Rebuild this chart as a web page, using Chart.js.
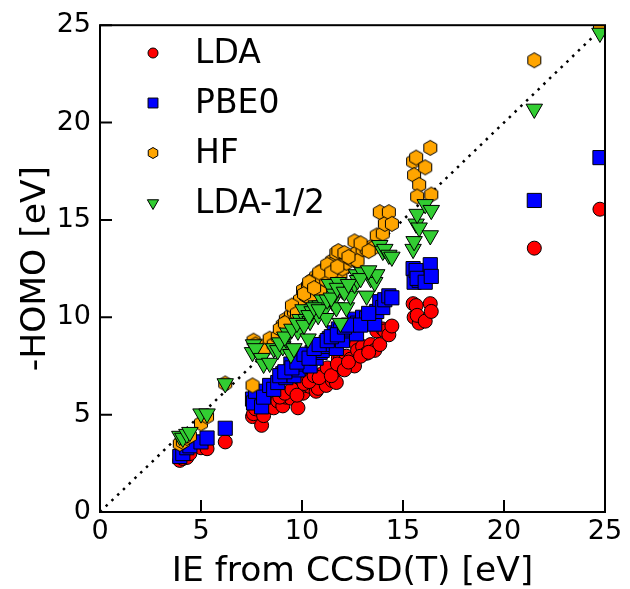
<!DOCTYPE html>
<html lang="en">
<head>
    <meta charset="UTF-8">
    <title>-HOMO vs IE</title>
    <script src="https://cdn.jsdelivr.net/npm/chart.js"></script>
    <style>
        body { margin: 0; background: white; }
    </style>
</head>
<body>
    <canvas id="homoChart" width="630" height="589"></canvas>

    <script>
        // IE from CCSD(T) for each molecule [eV]
        const ie = [3.95, 4.1, 4.3, 4.45, 5.0, 5.3, 6.2,
            7.55, 7.6, 7.7, 8.0, 8.1, 8.4, 8.6, 8.8, 9.05, 9.2, 9.3, 9.45, 9.6, 9.8, 9.9,
            10.05, 10.2, 10.3, 10.4, 10.5, 10.7, 10.8, 10.9, 11.0, 11.1, 11.2, 11.35, 11.5,
            11.6, 11.7, 11.8, 11.9, 12.0, 12.2, 12.4, 12.6, 12.7, 12.75, 13.0, 13.2, 13.4,
            13.6, 13.7, 13.85, 14.0, 14.1, 14.3, 14.45,
            15.5, 15.55, 15.65, 15.8, 15.7, 16.1, 16.35, 16.4,
            21.5, 24.75,
            8.9, 9.15, 9.5, 9.75, 10.1, 10.35, 10.6, 10.85, 11.25, 11.45, 11.75, 12.1, 12.3, 12.9, 13.3];
        // -HOMO for each method [eV]
        const lda = [2.65, 2.75, 2.8, 3.0, 3.3, 3.25, 3.6,
            4.9, 5.05, 5.3, 4.45, 4.95, 5.55, 5.35, 5.7, 5.45, 5.9, 6.0, 5.85, 6.35, 5.35, 6.3,
            6.1, 6.5, 6.8, 6.45, 6.9, 6.2, 6.35, 7.0, 7.1, 6.8, 6.5, 7.3, 6.75,
            7.2, 6.65, 7.9, 7.85, 7.4, 8.0, 7.85, 7.5, 8.6, 8.3, 8.5, 8.15, 8.6,
            8.3, 9.3, 8.6, 9.4, 9.3, 9.1, 9.55,
            10.7, 10.0, 10.6, 9.7, 10.1, 9.8, 10.7, 10.3,
            13.55, 15.55,
            5.9, 6.1, 6.3, 6.0, 6.6, 6.7, 7.0, 6.9, 7.4, 7.0, 7.6, 7.3, 7.7, 8.0, 8.2];
        const pbe0 = [2.85, 3.0, 3.3, 3.4, 3.6, 3.8, 4.3,
            5.8, 5.6, 6.2, 5.4, 5.9, 6.5, 6.3, 6.65, 7.1, 6.9, 7.15, 7.6, 7.0, 7.3, 8.0,
            7.6, 7.8, 8.0, 7.5, 8.2, 7.9, 8.3, 8.2, 8.3, 8.5, 8.7, 8.9, 8.6,
            9.2, 8.4, 9.4, 9.3, 8.8, 9.3, 9.4, 9.9, 9.15, 9.7, 10.0, 9.95, 10.0,
            9.65, 10.3, 10.8, 10.5, 10.9, 11.1, 11.0,
            12.5, 11.8, 12.4, 11.9, 12.0, 11.8, 12.7, 12.1,
            16.0, 18.2,
            7.0, 7.2, 7.4, 7.7, 8.1, 7.9, 8.4, 8.6, 8.8, 9.0, 9.1, 9.5, 9.6, 9.6, 10.2];
        const hf = [3.5, 3.6, 3.8, 3.9, 4.55, 4.9, 6.6,
            6.5, 8.8, 8.6, 8.5, 8.3, 8.9, 8.6, 9.0, 9.6, 9.9, 9.8, 10.1, 10.3, 10.7, 10.9,
            11.4, 11.1, 11.6, 11.0, 11.9, 12.1, 12.0, 11.3, 12.4, 12.3, 11.9, 12.6, 12.9,
            12.8, 13.3, 13.4, 12.2, 12.5, 12.8, 13.0, 13.9, 13.3, 12.9, 13.5, 13.5, 13.6,
            13.6, 14.2, 15.4, 14.3, 14.8, 15.4, 14.8,
            18.0, 17.3, 18.2, 16.8, 16.2, 17.7, 18.7, 16.3,
            23.2, 24.9,
            9.4, 9.7, 10.6, 10.2, 11.2, 11.8, 11.5, 12.3, 12.7, 12.3, 12.6, 13.3, 13.1, 13.8, 13.4];
        const lda12 = [3.9, 3.8, 4.0, 4.1, 5.05, 5.05, 6.6,
            8.2, 8.6, 8.4, 7.9, 7.6, 7.65, 8.4, 8.3, 8.5, 8.9, 9.2, 8.1, 8.4, 9.3, 9.9,
            10.4, 9.9, 8.9, 9.8, 10.3, 10.6, 10.1, 10.6, 10.9, 10.4, 9.95, 11.7, 10.8,
            11.2, 10.5, 11.8, 9.7, 11.4, 10.5, 11.1, 11.7, 12.2, 11.9, 12.3, 11.1, 12.0,
            11.8, 12.2, 13.7, 13.4, 13.5, 13.2, 13.1,
            13.5, 13.9, 14.8, 14.6, 15.3, 15.8, 14.2, 15.5,
            20.7, 24.6,
            8.7, 9.0, 9.4, 9.7, 9.6, 10.1, 10.5, 10.4, 10.9, 11.0, 11.5, 11.3, 11.7, 12.0, 12.4];
        const axisTicks = [0, 5, 10, 15, 20, 25];

        Chart.defaults.font.family = 'DejaVu Sans';
        Chart.defaults.color = 'black';

        function hexagon(r, fill) {
            const s = Math.ceil(r * 2 + 3);
            const c = document.createElement('canvas');
            c.width = s;
            c.height = s;
            const g = c.getContext('2d');
            g.beginPath();
            for (let i = 0; i < 6; i++) {
                const a = Math.PI / 3 * i - Math.PI / 2;
                const px = s / 2 + r * Math.cos(a);
                const py = s / 2 + r * Math.sin(a);
                if (i === 0) g.moveTo(px, py); else g.lineTo(px, py);
            }
            g.closePath();
            g.fillStyle = fill;
            g.fill();
            g.strokeStyle = 'black';
            g.lineWidth = 1;
            g.stroke();
            return c;
        }

        const pts = vals => vals.map((v, i) => ({x: ie[i], y: v}));

        const series = [
            {label: 'LDA', data: lda, color: 'red', style: 'circle', radius: 7, rot: 0, legendStyle: 'circle', legendRadius: 5},
            {label: 'PBE0', data: pbe0, color: 'blue', style: 'rect', radius: 10, rot: 0, legendStyle: 'rect', legendRadius: 7},
            {label: 'HF', data: hf, color: 'orange', style: hexagon(7.5, 'orange'), radius: 7.5, rot: 0, legendStyle: hexagon(5.5, 'orange'), legendRadius: 5},
            {label: 'LDA-1/2', data: lda12, color: 'limegreen', style: 'triangle', radius: 9.5, rot: 180, legendStyle: 'triangle', legendRadius: 6.5}
        ];

        const datasets = series.map((s, i) => ({
            type: 'scatter',
            label: s.label,
            data: pts(s.data),
            pointStyle: s.style,
            pointRotation: s.rot,
            pointRadius: s.radius,
            pointBackgroundColor: s.color,
            pointBorderColor: 'black',
            pointBorderWidth: 1,
            order: 4 - i
        }));
        datasets.push({
            type: 'line',
            label: 'diagonal',
            data: [{x: 0, y: 0}, {x: 25, y: 25}],
            borderColor: 'black',
            borderWidth: 2.5,
            borderDash: [2.5, 5.5],
            pointRadius: 0,
            order: 10
        });

        const framePlugin = {
            id: 'frame',
            afterDraw(chart) {
                const {ctx, chartArea: a, scales: {x, y}} = chart;
                ctx.save();
                ctx.strokeStyle = 'black';
                ctx.lineWidth = 2;
                ctx.strokeRect(a.left, a.top, a.right - a.left, a.bottom - a.top);
                ctx.beginPath();
                axisTicks.forEach(t => {
                    const px = x.getPixelForValue(t);
                    ctx.moveTo(px, a.bottom);
                    ctx.lineTo(px, a.bottom - 12);
                    const py = y.getPixelForValue(t);
                    ctx.moveTo(a.left, py);
                    ctx.lineTo(a.left + 12, py);
                });
                ctx.stroke();

                // legend inside the plot, top left
                ctx.font = '33px "DejaVu Sans"';
                ctx.textBaseline = 'middle';
                ctx.textAlign = 'left';
                series.forEach((s, i) => {
                    const cy = 53 + i * 50;
                    ctx.fillStyle = s.color;
                    ctx.strokeStyle = 'black';
                    ctx.lineWidth = 1;
                    Chart.helpers.drawPoint(ctx, {pointStyle: s.legendStyle, rotation: s.rot, radius: s.legendRadius, borderWidth: 1}, 153, cy);
                    ctx.fillStyle = 'black';
                    ctx.fillText(s.label, 195, cy + 1);
                });
                ctx.restore();
            }
        };

        const tickFont = {size: 27};
        const titleFont = {size: 34.5, lineHeight: 1.0};

        new Chart(document.getElementById('homoChart'), {
            data: {datasets},
            options: {
                responsive: false,
                animation: false,
                events: [],
                layout: {padding: {top: 22, right: 25, left: 0, bottom: 0}},
                plugins: {
                    legend: {display: false},
                    tooltip: {enabled: false}
                },
                scales: {
                    x: {
                        type: 'linear',
                        min: 0,
                        max: 25,
                        afterFit: s => { s.height = 77; },
                        afterBuildTicks: s => { s.ticks = axisTicks.map(v => ({value: v})); },
                        grid: {display: false, drawTicks: false},
                        border: {display: false},
                        ticks: {font: tickFont, padding: 4, maxRotation: 0},
                        title: {display: true, text: 'IE from CCSD(T) [eV]', font: titleFont, padding: {top: 0, bottom: 0}}
                    },
                    y: {
                        type: 'linear',
                        min: 0,
                        max: 25,
                        afterFit: s => { s.width = 100; },
                        afterBuildTicks: s => { s.ticks = axisTicks.map(v => ({value: v})); },
                        grid: {display: false, drawTicks: false},
                        border: {display: false},
                        ticks: {font: tickFont, padding: 9},
                        title: {display: true, text: '-HOMO [eV]', font: titleFont, padding: {top: 19, bottom: 0}}
                    }
                }
            },
            plugins: [framePlugin]
        });
    </script>
</body>
</html>
